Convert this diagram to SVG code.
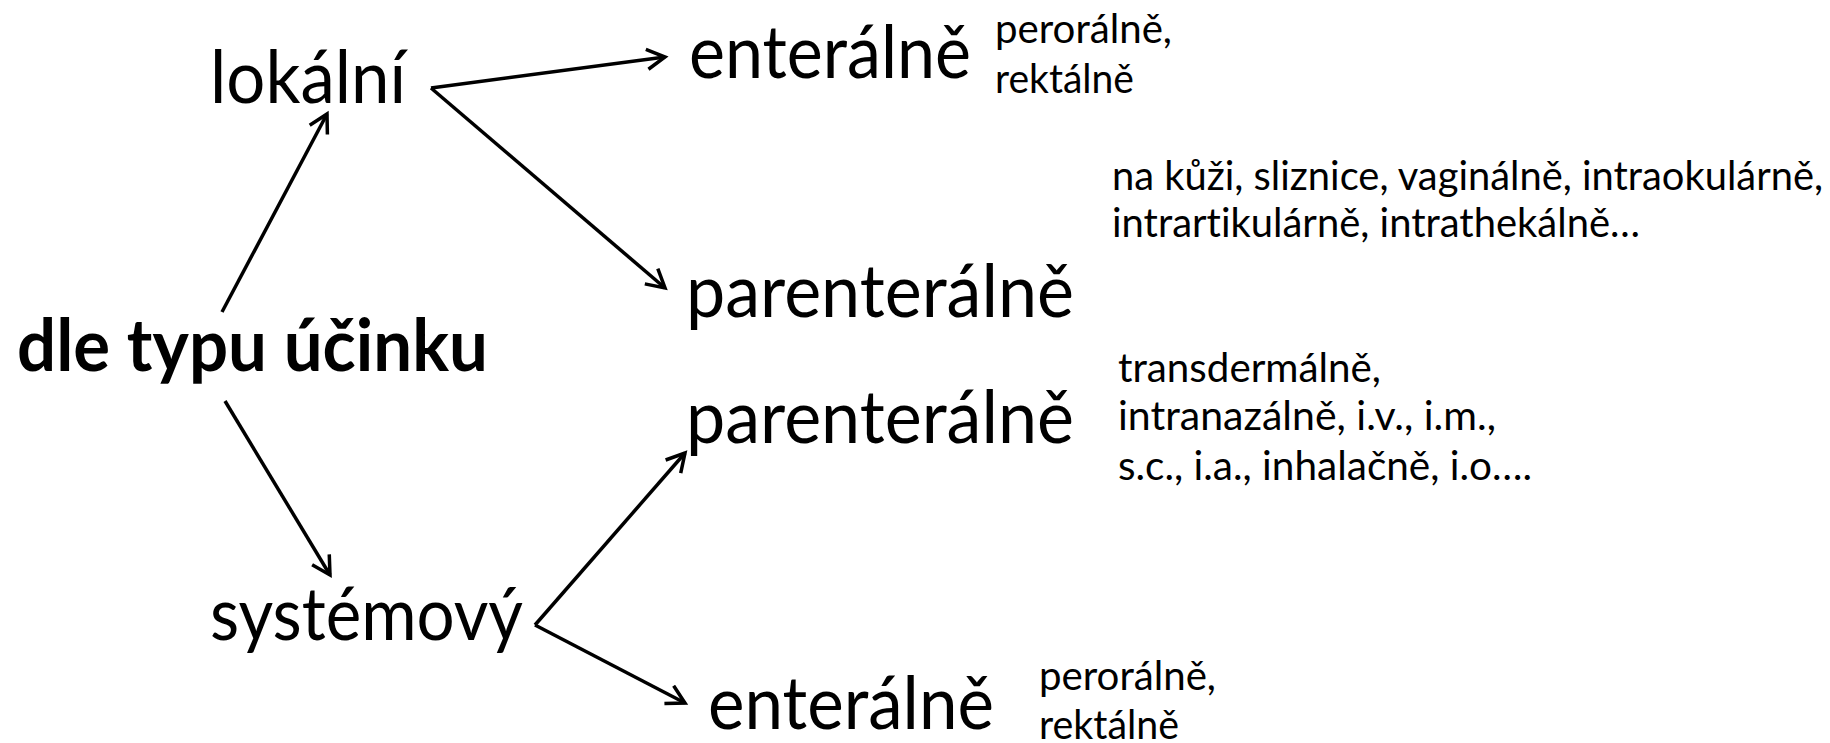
<svg xmlns="http://www.w3.org/2000/svg" width="1830" height="743" viewBox="0 0 1830 743">
<style>
  text { font-family: Lato, "Open Sans", "Liberation Sans", sans-serif; fill: #000; font-variant-ligatures: none; font-feature-settings: "liga" 0, "clig" 0; }
  .big { font-size: 74px; }
  .bold { font-size: 73px; font-weight: bold; }
  .small { font-size: 40px; }
  .conn line { stroke: #000; stroke-width: 3.5; fill: none; marker-end: url(#arr); }
</style>
<defs>
  <marker id="arr" viewBox="0 0 24 24" refX="20" refY="12" markerWidth="24" markerHeight="24" markerUnits="userSpaceOnUse" orient="auto">
    <path d="M2,2 L20,12 L2,22" fill="none" stroke="#000" stroke-width="3.5" stroke-linejoin="miter"/>
  </marker>
</defs>
<rect width="1830" height="743" fill="#fff"/>
<g class="conn" id="connectors">
  <line x1="431" y1="88" x2="665" y2="57"/>
  <line x1="431" y1="88" x2="665" y2="288"/>
  <line x1="222" y1="312" x2="327" y2="114"/>
  <line x1="225" y1="401" x2="330" y2="575"/>
  <line x1="535" y1="625" x2="685" y2="453"/>
  <line x1="535" y1="625" x2="685" y2="703"/>
</g>
<g id="root"><text class="bold" x="17" y="371" textLength="471" lengthAdjust="spacingAndGlyphs">dle typu účinku</text></g>
<g id="lokalni"><text class="big" x="210" y="103" textLength="196" lengthAdjust="spacingAndGlyphs">lokální</text></g>
<g id="systemovy"><text class="big" x="210" y="640" textLength="313" lengthAdjust="spacingAndGlyphs">systémový</text></g>
<g id="enteralne1">
  <text class="big" x="689" y="78" textLength="282" lengthAdjust="spacingAndGlyphs">enterálně</text>
  <text class="small" x="995" y="43" textLength="177" lengthAdjust="spacingAndGlyphs">perorálně,</text>
  <text class="small" x="995" y="93" textLength="139" lengthAdjust="spacingAndGlyphs">rektálně</text>
</g>
<g id="parenteralne1">
  <text class="big" x="686" y="317" textLength="388" lengthAdjust="spacingAndGlyphs">parenterálně</text>
  <text class="small" x="1112" y="190" textLength="711" lengthAdjust="spacingAndGlyphs">na kůži, sliznice, vaginálně, intraokulárně,</text>
  <text class="small" x="1112" y="237" textLength="528" lengthAdjust="spacingAndGlyphs">intrartikulárně, intrathekálně…</text>
</g>
<g id="parenteralne2">
  <text class="big" x="686" y="443" textLength="388" lengthAdjust="spacingAndGlyphs">parenterálně</text>
  <text class="small" x="1118" y="382" textLength="263" lengthAdjust="spacingAndGlyphs">transdermálně,</text>
  <text class="small" x="1118" y="430" textLength="378" lengthAdjust="spacingAndGlyphs">intranazálně, i.v., i.m.,</text>
  <text class="small" x="1118" y="480" textLength="414" lengthAdjust="spacingAndGlyphs">s.c., i.a., inhalačně, i.o….</text>
</g>
<g id="enteralne2">
  <text class="big" x="708" y="729" textLength="286" lengthAdjust="spacingAndGlyphs">enterálně</text>
  <text class="small" x="1039" y="690" textLength="177" lengthAdjust="spacingAndGlyphs">perorálně,</text>
  <text class="small" x="1039" y="739" textLength="140" lengthAdjust="spacingAndGlyphs">rektálně</text>
</g>
</svg>
